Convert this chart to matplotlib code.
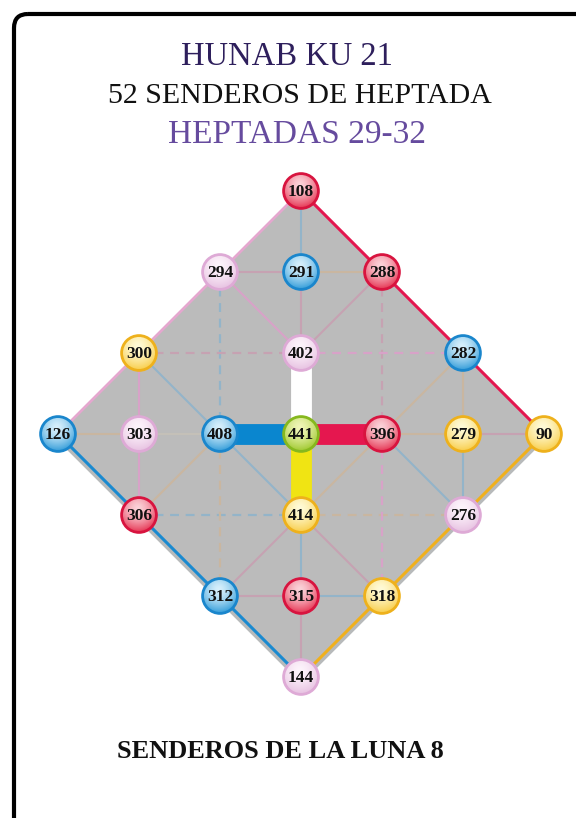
#!/usr/bin/env python
# -*- coding: utf-8 -*-
'''
Hunab Ku 21 - senderos de la luna 8 (diamond path diagram)
'''
import matplotlib
matplotlib.use('Agg')
import matplotlib.pyplot as plt
from matplotlib.patches import Circle, FancyBboxPatch, Polygon
from matplotlib.colors import to_rgb
import numpy as np

#======================================================================|
# Data

# node labels and grid positions (1 unit = one step of the lattice)
labels = [108, 294, 291, 288, 300, 402, 282,
          126, 303, 408, 441, 396, 279, 90,
          306, 414, 276, 312, 315, 318, 144]
xs = [0, -1, 0, 1, -2, 0, 2,
      -3, -2, -1, 0, 1, 2, 3,
      -2, 0, 2, -1, 0, 1, 0]
ys = [3, 2, 2, 2, 1, 1, 1,
      0, 0, 0, 0, 0, 0, 0,
      -1, -1, -1, -2, -2, -2, -3]
groups = ['red', 'pink', 'blue', 'red', 'yellow', 'pink', 'blue',
          'blue', 'pink', 'blue', 'green', 'red', 'yellow', 'yellow',
          'red', 'yellow', 'pink', 'blue', 'red', 'yellow', 'pink']

# outer edges of the diamond
outer_pink = [(108, 294), (294, 300), (300, 126)]
outer_red = [(108, 288), (288, 282), (282, 90)]
outer_orange = [(90, 276), (276, 318), (318, 144)]
outer_blue = [(126, 306), (306, 312), (312, 144)]

# thin inner paths: (a, b, colour kind)
inner_solid = [(108, 291, 'blue'), (291, 402, 'mauve'), (294, 291, 'mauve'),
               (291, 288, 'tan'), (294, 402, 'pink'), (288, 402, 'mauve'),
               (300, 303, 'pink'), (300, 408, 'blue'), (282, 279, 'tan'),
               (282, 396, 'tan'), (126, 303, 'tan'), (303, 408, 'faint'),
               (396, 279, 'tan'), (279, 90, 'mauve'), (303, 306, 'pink'),
               (408, 306, 'tan'), (408, 414, 'blue'), (396, 276, 'blue'),
               (279, 276, 'blue'), (396, 414, 'tan'), (414, 312, 'mauve'),
               (414, 318, 'mauve'), (414, 315, 'blue'), (315, 144, 'mauve'),
               (312, 315, 'mauve'), (315, 318, 'blue')]
inner_dashed = [(294, 408, 'blue'), (288, 396, 'mauve'), (300, 402, 'mauve'),
                (402, 282, 'pink'), (306, 414, 'blue'), (414, 276, 'tan'),
                (408, 312, 'tan'), (396, 318, 'pink')]

# thick central bars
center_bars = [(441, 402, 'white'), (441, 408, '#0a86cf'),
               (441, 396, '#e5174f'), (441, 414, '#f0e413')]

#======================================================================|
# Styles

line_cols = {'blue': '#93b4c9', 'mauve': '#c6a2b2', 'pink': '#d8a2c8',
             'tan': '#c9b6a0', 'faint': '#c4c0b8'}
node_cols = {  # (light centre, rim, edge)
    'red': ('#fbd3d9', '#e5304f', '#d8143f'),
    'blue': ('#d8f0fc', '#2e9ad8', '#1a86cc'),
    'pink': ('#fdf4fb', '#e6bfe0', '#deaad6'),
    'yellow': ('#fffbd8', '#f8cc45', '#eeb11c'),
    'green': ('#f0f6b8', '#9cc72a', '#86b81e'),
}
pos = {lab: (x, y) for lab, x, y in zip(labels, xs, ys)}
R = 0.215

W, H = 576, 818
fig = plt.figure(figsize=(W / 100, H / 100), dpi=100)
fig.patch.set_facecolor('white')

# border (pixel coords)
ax0 = fig.add_axes([0, 0, 1, 1])
ax0.set_xlim(0, W)
ax0.set_ylim(H, 0)
ax0.axis('off')
ax0.add_patch(FancyBboxPatch((14, 14), 700, 900,
                             boxstyle='round,pad=0,rounding_size=14',
                             fc='none', ec='black', lw=3.0))

# diagram axes: centre at (301, 434) px, 81 px per unit
cx, cy, s = 301., 434., 81.
ax = fig.add_axes([0, 0, 1, 1])
ax.set_aspect('equal')
ax.axis('off')
ax.patch.set_alpha(0)


def seg(a, b):
    return [pos[a][0], pos[b][0]], [pos[a][1], pos[b][1]]


# shading & fill
for edges in (outer_blue, outer_orange):
    for a, b in edges:
        ax.plot(*seg(a, b), color='#b7babb', lw=7, solid_capstyle='round', zorder=0.9)
ax.add_patch(Polygon([pos[108], pos[90], pos[144], pos[126]], closed=True,
                     fc='#bbbbbb', ec='none', zorder=1))

for a, b, k in inner_solid:
    ax.plot(*seg(a, b), color=line_cols[k], lw=1.5, zorder=2)
for a, b, k in inner_dashed:
    ax.plot(*seg(a, b), color=line_cols[k], lw=1.6, ls=(0, (4, 3)), zorder=2)

for edges, col, lw in ((outer_pink, '#e5a7cf', 2.0), (outer_red, '#e3174f', 2.2),
                       (outer_orange, '#f0b01c', 2.2), (outer_blue, '#1a8ad0', 2.2)):
    for a, b in edges:
        ax.plot(*seg(a, b), color=col, lw=lw, solid_capstyle='round', zorder=3)

for a, b, col in center_bars:
    ax.plot(*seg(a, b), color=col, lw=15, solid_capstyle='butt', zorder=4)

# nodes with radial gradient
g = np.linspace(-1, 1, 64)
gx, gy = np.meshgrid(g, g)
d = np.clip(np.hypot(gx + 0.1, gy - 0.35) / 1.4, 0, 1) ** 1.5
for lab, x, y, grp in zip(labels, xs, ys, groups):
    light, rim, edge = node_cols[grp]
    c0, c1 = np.array(to_rgb(light)), np.array(to_rgb(rim))
    img = c0[None, None, :] * (1 - d[..., None]) + c1[None, None, :] * d[..., None]
    circ = Circle((x, y), R, fc='none', ec='none', zorder=5)
    ax.add_patch(circ)
    im = ax.imshow(img, extent=[x - R, x + R, y - R, y + R], origin='lower',
                   zorder=5, interpolation='bilinear')
    im.set_clip_path(circ)
    ax.add_patch(Circle((x, y), R, fc='none', ec=edge, lw=2.0, zorder=6))
    ax.text(x, y - 0.01, str(lab), ha='center', va='center', fontsize=12.5,
            fontweight='bold', family='Liberation Serif', color='#111111', zorder=7)

ax.set_xlim(-cx / s, (W - cx) / s)
ax.set_ylim(-(H - cy) / s, cy / s)

# titles
fig.text(0.499, 1 - 57 / H, 'HUNAB KU 21', ha='center', va='center',
         fontsize=23.5, family='Liberation Serif', color='#2e1f5c')
fig.text(0.521, 1 - 96 / H, '52 SENDEROS DE HEPTADA', ha='center', va='center',
         fontsize=21.5, family='Liberation Serif', color='#111111')
fig.text(0.516, 1 - 135 / H, 'HEPTADAS 29-32', ha='center', va='center',
         fontsize=24, family='Liberation Serif', color='#664b9e')
fig.text(0.486, 1 - 752 / H, 'SENDEROS DE LA LUNA 8', ha='center', va='center',
         fontsize=19, fontweight='bold', family='Liberation Serif', color='#111111')

fig.savefig('out.png', dpi=100)
